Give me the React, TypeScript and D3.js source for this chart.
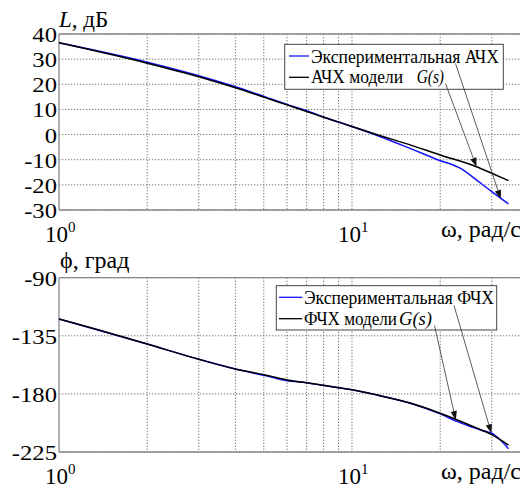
import React from "react";
import { scaleLog, scaleLinear, line, curveMonotoneX } from "d3";

// амплитудные характеристики
const omegaAchExp = [1, 2, 3, 4, 5, 6, 7, 8, 10, 12.5, 15.4, 19.5, 24, 25.9, 30, 34.2];
const achExp = [36.5, 28.8, 23.4, 19.0, 15.2, 12.0, 9.5, 7.0, 3.2, -0.85, -5.0, -9.9, -14.1, -17.0, -22.7, -27.6];
const omegaAchModel = [1, 2, 3, 4, 5, 6, 7, 8, 10, 12.5, 15, 20, 26.6, 30, 34.2];
const achModel = [36.5, 28.4, 23.0, 18.6, 14.9, 11.8, 9.2, 6.9, 3.2, -0.45, -3.3, -8.1, -12.8, -15.4, -18.3];

// фазовые характеристики
const omegaFchExp = [1, 2, 3, 4, 5, 6, 7, 8, 10, 12.2, 15.9, 20, 22.9, 25.5, 28, 30, 32, 34.2];
const fchExp = [-122, -141.4, -153.2, -160.7, -165.6, -169.8, -171.3, -173.5, -176.8, -181, -187.5, -195.5, -201.5, -205.5, -208.5, -210.5, -215.5, -222.4];
const omegaFchModel = [1, 1.6, 2, 3, 4, 5, 6, 7, 8, 9, 10, 12.2, 15.9, 20, 22.9, 26.8, 30, 34.2];
const fchModel = [-122, -134.9, -141.4, -153.2, -160.7, -165.2, -169.2, -171.3, -173.3, -175.2, -176.8, -180.9, -187.3, -195, -200.2, -206.7, -211.5, -219.6];

const achTicks = [40, 30, 20, 10, 0, -10, -20, -30];
const fchTicks = [-90, -135, -180, -225];
const minorOmega = [2, 3, 4, 5, 6, 7, 8, 9, 10, 20, 30];
const decades = [1, 10];

const W = 528;
const H = 485;
const left = 59;
const right = 528.4;
const serif = "Liberation Serif";

const x = scaleLog().domain([1, 40]).range([left, right]);
const yAch = scaleLinear().domain([-30, 40]).range([210, 34]);
const yFch = scaleLinear().domain([-225, -90]).range([452, 277.7]);

type Legend = {
  x0: number; y0: number; w: number; h: number;
  lx1: number; lx2: number; ly1: number; ly2: number;
  tx: number; b1: number; b2: number; len1: number; len2: number;
  gx: number; glen: number; name: string;
};

type Panel = {
  y: any;
  ticks: number[];
  exp: [number[], number[]];
  model: [number[], number[]];
  legend: Legend;
  arrows: { sx: number; sy: number; omega: number; value: number }[];
};

const panels: Panel[] = [
  {
    y: yAch,
    ticks: achTicks,
    exp: [omegaAchExp, achExp],
    model: [omegaAchModel, achModel],
    legend: {
      x0: 284.7, y0: 44.3, w: 218.6, h: 45,
      lx1: 289, lx2: 309, ly1: 56, ly2: 77.3,
      tx: 311, b1: 62.7, b2: 83.3, len1: 188, len2: 92,
      gx: 416.7, glen: 27.3, name: "АЧХ",
    },
    arrows: [
      { sx: 455.5, sy: 63.5, omega: 32.2, value: -25.6 },
      { sx: 445.5, sy: 83.5, omega: 26.6, value: -12.8 },
    ],
  },
  {
    y: yFch,
    ticks: fchTicks,
    exp: [omegaFchExp, fchExp],
    model: [omegaFchModel, fchModel],
    legend: {
      x0: 276.3, y0: 285.7, w: 220.4, h: 44.3,
      lx1: 279, lx2: 302.3, ly1: 297.3, ly2: 318.7,
      tx: 304, b1: 304, b2: 325, len1: 190, len2: 93,
      gx: 399, glen: 33, name: "ФЧХ",
    },
    arrows: [
      { sx: 454, sy: 305.5, omega: 29.9, value: -210.5 },
      { sx: 434.5, sy: 325.5, omega: 22.6, value: -200.2 },
    ],
  },
];

function Arrow({ sx, sy, tx, ty }: { sx: number; sy: number; tx: number; ty: number }) {
  const a = Math.atan2(ty - sy, tx - sx);
  const len = 9;
  const hw = 3.2;
  const bx = tx - len * Math.cos(a);
  const by = ty - len * Math.sin(a);
  const px = -Math.sin(a) * hw;
  const py = Math.cos(a) * hw;
  return (
    <g>
      <line x1={sx} y1={sy} x2={bx} y2={by} stroke="#333" strokeWidth={0.8} />
      <path d={`M${tx},${ty}L${bx + px},${by + py}L${bx - px},${by - py}Z`} fill="#111" />
    </g>
  );
}

function PanelView({ p }: { p: Panel }) {
  const [top, bottom] = [p.y.range()[1], p.y.range()[0]];
  const gen = line<[number, number]>()
    .x((d) => x(d[0]))
    .y((d) => p.y(d[1]))
    .curve(curveMonotoneX);
  const zip = (a: number[], b: number[]) => a.map((v, i) => [v, b[i]] as [number, number]);
  const L = p.legend;
  return (
    <g>
      {/* сетка */}
      {p.ticks.map((t) => (
        <line key={"h" + t} x1={left} x2={right} y1={p.y(t)} y2={p.y(t)} stroke="#666" strokeWidth={0.9} strokeDasharray="1.3,1.7" />
      ))}
      {minorOmega.map((w) => (
        <line key={"v" + w} x1={x(w)} x2={x(w)} y1={top} y2={bottom} stroke="#666" strokeWidth={0.9} strokeDasharray="1.3,1.7" />
      ))}
      {/* рамка */}
      <line x1={left} x2={right} y1={top} y2={top} stroke="#888" strokeWidth={1.3} />
      <line x1={left} x2={right} y1={bottom} y2={bottom} stroke="#888" strokeWidth={1.3} />
      <line x1={left} x2={left} y1={top} y2={bottom} stroke="#888" strokeWidth={1.3} />
      {/* подписи оси Y */}
      {p.ticks.map((t) => (
        <text key={"t" + t} transform={`translate(57,${p.y(t) + 8}) scale(1.12,1)`} textAnchor="end" fontFamily={serif} fontSize={22}>
          {t}
        </text>
      ))}
      {/* подписи оси X */}
      {decades.map((d, i) => (
        <text key={"d" + d} x={x(d) - 14} y={bottom + 31.5} fontFamily={serif} fontSize={23}>
          10
          <tspan fontSize={15} dy={-10}>{i}</tspan>
        </text>
      ))}
      <text x={441} y={bottom + 27} fontFamily={serif} fontSize={24}>
        ω, рад/с
      </text>
      {/* кривые */}
      <path d={gen(zip(p.exp[0], p.exp[1])) || ""} fill="none" stroke="#1414ff" strokeWidth={1.5} />
      <path d={gen(zip(p.model[0], p.model[1])) || ""} fill="none" stroke="#000" strokeWidth={1.5} />
      {/* легенда */}
      <rect x={L.x0} y={L.y0} width={L.w} height={L.h} fill="#fff" stroke="#444" strokeWidth={1} />
      <line x1={L.lx1} x2={L.lx2} y1={L.ly1} y2={L.ly1} stroke="#1414ff" strokeWidth={1.3} />
      <line x1={L.lx1} x2={L.lx2} y1={L.ly2} y2={L.ly2} stroke="#000" strokeWidth={1.3} />
      <text x={L.tx} y={L.b1} fontFamily={serif} fontSize={19} textLength={L.len1} lengthAdjust="spacingAndGlyphs">
        Экспериментальная {L.name}
      </text>
      <text x={L.tx} y={L.b2} fontFamily={serif} fontSize={19} textLength={L.len2} lengthAdjust="spacingAndGlyphs">
        {L.name} модели
      </text>
      <text x={L.gx} y={L.b2} fontFamily={serif} fontStyle="italic" fontSize={19} textLength={L.glen} lengthAdjust="spacingAndGlyphs">
        G(s)
      </text>
      {p.arrows.map((a, i) => (
        <Arrow key={i} sx={a.sx} sy={a.sy} tx={x(a.omega)} ty={p.y(a.value)} />
      ))}
    </g>
  );
}

export default function App() {
  // svg стоит на (8,8) из-за отступа body; содержимое сдвигаем обратно
  return (
    <svg width={W} height={H}>
      <g transform="translate(-8,-8)">
        {panels.map((p, i) => (
          <PanelView key={i} p={p} />
        ))}
        <text x={59} y={27} fontFamily={serif} fontSize={23}>
          <tspan fontStyle="italic">L</tspan>, дБ
        </text>
        <text x={60} y={268} fontFamily={serif} fontSize={24}>
          ϕ, град
        </text>
      </g>
    </svg>
  );
}
